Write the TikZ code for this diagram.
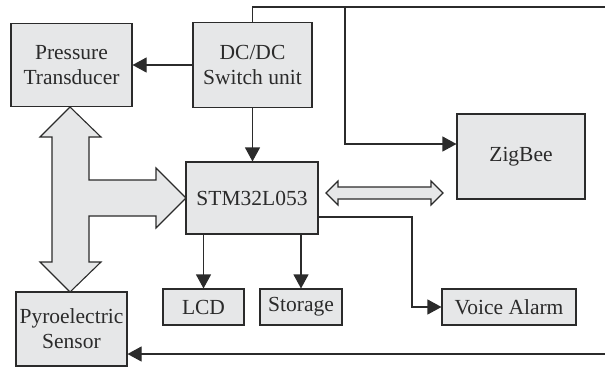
\documentclass[tikz,border=0pt]{standalone}
\usepackage{fontspec}
\setmainfont{Liberation Serif}
\usetikzlibrary{arrows.meta}
\definecolor{boxfill}{HTML}{E6E7E8}
\definecolor{linec}{HTML}{2B2B2B}
\tikzset{
  blk/.style={draw=linec, fill=boxfill, line width=1.1pt, inner sep=0pt, align=center,
    font=\fontsize{21.5}{25}\selectfont, text=linec},
  arr/.style={draw=linec, line width=1.1pt, -{Triangle[length=14pt,width=15pt]}},
  ln/.style={draw=linec, line width=1.1pt},
  fat/.style={draw=linec, fill=boxfill, line width=1.1pt, line join=miter}
}
\begin{document}
\begin{tikzpicture}[x=1pt,y=-1pt]
\useasboundingbox (0,0) rectangle (605,368);
\node[blk, minimum width=121pt, minimum height=83pt] (press) at (71.5,65) {Pressure\\Transducer};
\node[blk, minimum width=119pt, minimum height=85pt] (dcdc) at (252.5,65) {DC/DC\\Switch unit};
\node[blk, minimum width=128pt, minimum height=85pt] (zig) at (521,156.5) {ZigBee};
\node[blk, minimum width=132pt, minimum height=72pt] (stm) at (252,198) {STM32L053};
\node[blk, minimum width=81pt, minimum height=36pt] (lcd) at (203.5,307) {LCD};
\node[blk, minimum width=82pt, minimum height=36pt] (stor) at (301,307) {Storage};
\node[blk, minimum width=134pt, minimum height=36pt] (voice) at (509,307) {Voice Alarm};
\node[blk, minimum width=111pt, minimum height=74pt] (pyro) at (71.5,329) {Pyroelectric\\Sensor};

\coordinate (topL) at (252.5,7);
\coordinate (topR) at (605,7);
\coordinate (zigT) at (345,7);
\coordinate (botR) at (605,354);

% DC/DC connections
\draw[arr] (dcdc.west) -- (press.east);
\draw[arr] (dcdc.south) -- (stm.north -| dcdc.south);
\draw[ln] (dcdc.north) -- (topL) -- (topR);
\draw[arr] (zigT) |- (zig.west |- 0,144);
\draw[arr] (botR) -- (pyro.east |- botR);

% STM outputs
\draw[arr] (stm.south -| lcd.north) -- (lcd.north);
\draw[arr] (stm.south -| stor.north) -- (stor.north);
\draw[arr] (stm.east |- 0,217) -| (412,307) -- (voice.west);

% fat bus arrows
\draw[fat] (70,107) -- (101,137) -- (89,137) -- (89,180) -- (156,180) -- (156,168)
  -- (186,198) -- (156,228) -- (156,216) -- (89,216) -- (89,262) -- (101,262)
  -- (70,292) -- (40,262) -- (52,262) -- (52,137) -- (40,137) -- cycle;
\draw[fat] (326,193) -- (338,181) -- (338,187) -- (431,187) -- (431,181) -- (443,193)
  -- (431,205) -- (431,199) -- (338,199) -- (338,205) -- cycle;
\end{tikzpicture}
\end{document}
